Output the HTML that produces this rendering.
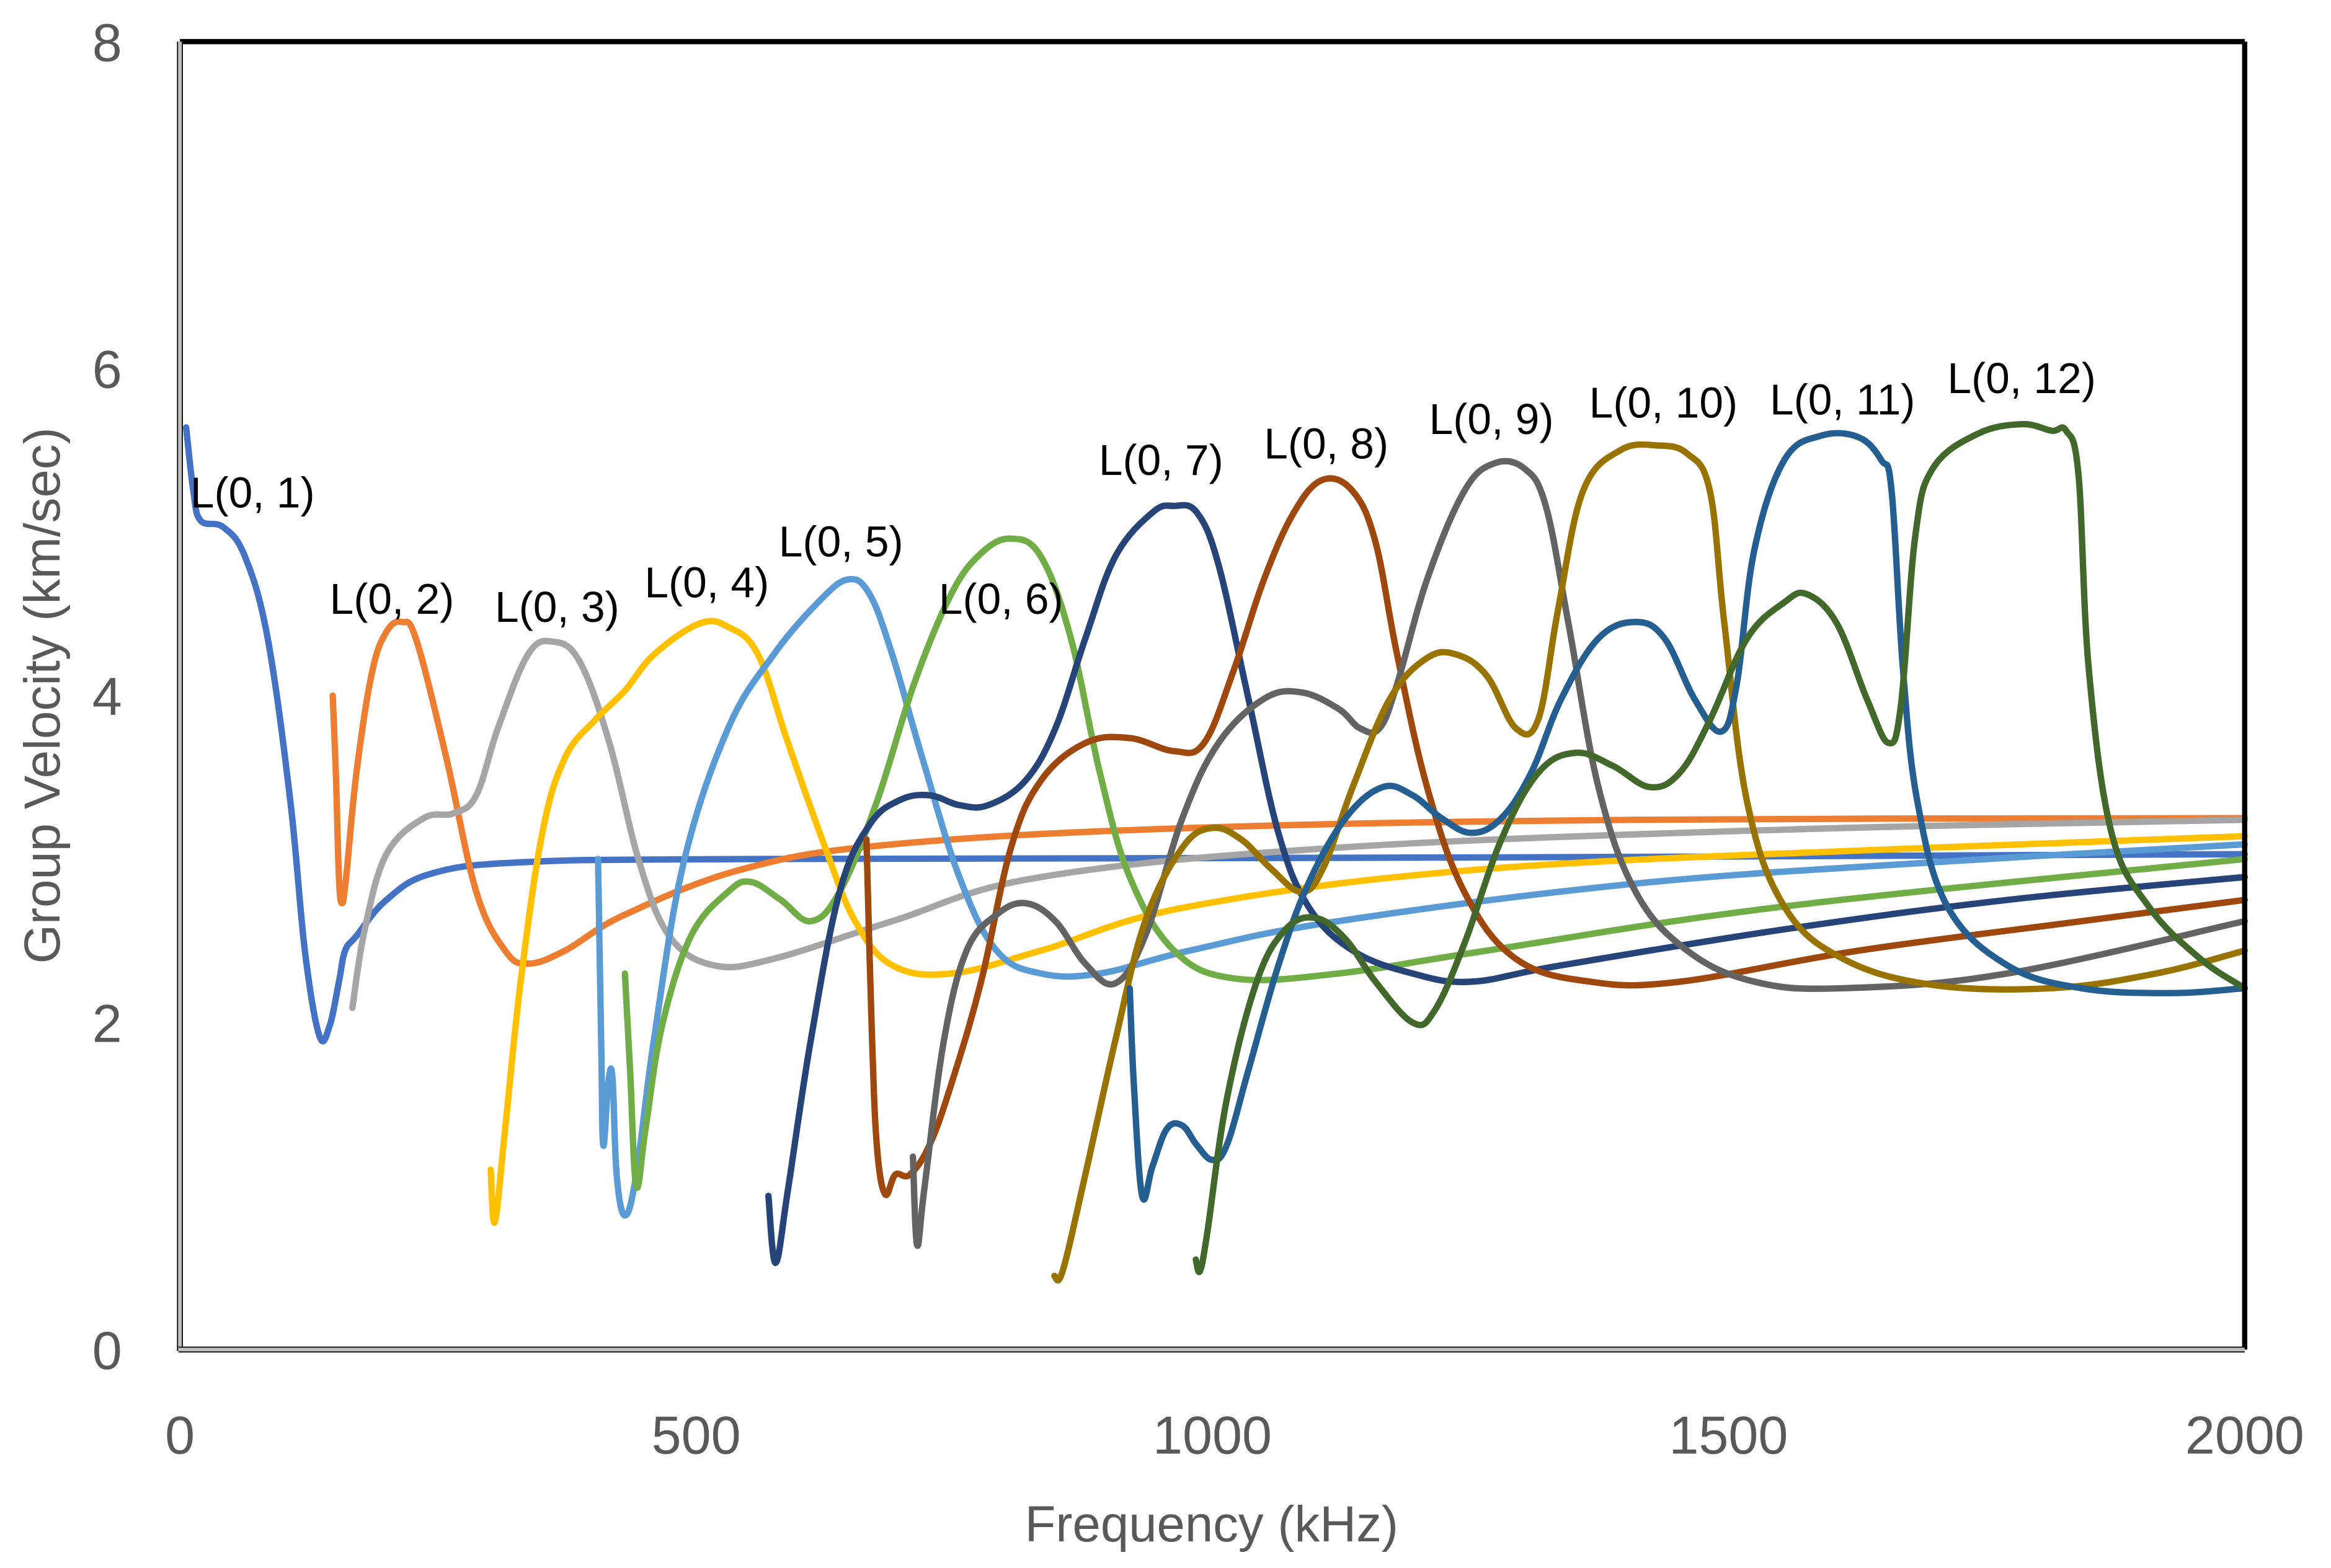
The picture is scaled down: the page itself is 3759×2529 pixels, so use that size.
<!DOCTYPE html>
<html><head><meta charset="utf-8"><style>
html,body{margin:0;padding:0;background:#fff;}
svg{display:block;}
text{font-family:"Liberation Sans",sans-serif;}
</style></head><body>
<svg id="chart" width="3759" height="2529" viewBox="0 0 1568 1055" xmlns="http://www.w3.org/2000/svg">
<rect x="0" y="0" width="1568" height="1055" fill="#fff"/>
<g id="plot"></g>
<g id="frame">
<line x1="121" y1="28" x2="1510" y2="28" stroke="#000" stroke-width="3.5"/>
<line x1="1510" y1="28" x2="1510" y2="908" stroke="#000" stroke-width="3.5"/>
<line x1="121" y1="28" x2="121" y2="909" stroke="#000" stroke-width="4"/>
<line x1="121" y1="28" x2="121" y2="909" stroke="#BFBFBF" stroke-width="2.5"/>
<line x1="120" y1="908" x2="1510" y2="908" stroke="#000" stroke-width="4"/>
<line x1="120" y1="908" x2="1510" y2="908" stroke="#BFBFBF" stroke-width="2.5"/>
</g>
<g id="axes"></g>
<text x="815" y="1037" font-size="34" fill="#595959" text-anchor="middle">Frequency (kHz)</text>
<text transform="translate(40,468) rotate(-90)" font-size="34" fill="#595959" text-anchor="middle">Group Velocity (km/sec)</text>
</svg>
<script>
const xTicks=[0,500,1000,1500,2000];
const yTicks=[0,2,4,6,8];
const seriesNames=["L(0, 1)","L(0, 2)","L(0, 3)","L(0, 4)","L(0, 5)","L(0, 6)","L(0, 7)","L(0, 8)","L(0, 9)","L(0, 10)","L(0, 11)","L(0, 12)"];
const s1f=[6,13,20,42,63,85,107,121,135,145,154,160,171,200,243,330,546,1266,2000];
const s1v=[5.64,5.25,5.07,5.03,4.85,4.35,3.35,2.44,1.92,1.98,2.25,2.44,2.53,2.75,2.91,2.98,3.0,3.01,3.03];
const s2f=[148,151,154,157,161,171,186,200,215,229,258,287,315,337,373,431,546,690,978,1410,2000];
const s2v=[4.0,3.53,2.89,2.73,2.89,3.53,4.14,4.39,4.45,4.34,3.62,2.8,2.44,2.36,2.44,2.66,2.94,3.09,3.19,3.24,3.25];
const s3f=[167,179,200,236,265,287,308,337,361,387,416,445,474,517,575,690,834,1122,1554,2000];
const s3v=[2.09,2.57,3.03,3.25,3.28,3.39,3.8,4.25,4.33,4.21,3.71,2.98,2.53,2.35,2.39,2.62,2.89,3.07,3.18,3.24];
const s4f=[301,305,315,330,351,373,402,431,459,503,531,560,589,625,654,690,747,834,978,1266,1698,2000];
const s4v=[1.1,0.78,1.35,2.25,3.16,3.62,3.85,4.03,4.25,4.44,4.42,4.25,3.71,3.07,2.62,2.35,2.3,2.44,2.71,2.94,3.07,3.14];
const s5f=[405,408,410,415,419,423,431,442,459,488,531,575,618,647,668,690,719,755,791,834,891,978,1122,1410,1698,2000];
const s5v=[3.0,1.89,1.25,1.64,1.66,1.07,0.82,1.07,1.89,2.98,3.8,4.25,4.57,4.71,4.62,4.25,3.62,2.89,2.44,2.3,2.3,2.44,2.62,2.85,2.98,3.09];
const s6f=[431,436,442,451,467,495,531,553,582,611,639,675,711,747,776,805,834,863,891,920,963,1021,1122,1266,1554,2000];
const s6v=[2.3,1.71,1.0,1.35,1.98,2.53,2.8,2.86,2.75,2.62,2.8,3.35,4.07,4.62,4.87,4.96,4.85,4.35,3.53,2.89,2.44,2.27,2.3,2.44,2.71,3.0];
const s7f=[570,577,589,611,639,668,697,726,755,783,819,848,877,906,942,963,985,1006,1035,1064,1093,1136,1194,1251,1338,1554,1770,2000];
const s7v=[0.94,0.53,0.98,1.89,2.8,3.21,3.36,3.39,3.33,3.33,3.48,3.8,4.35,4.85,5.12,5.16,5.12,4.8,3.98,3.16,2.71,2.44,2.3,2.25,2.35,2.57,2.75,2.89];
const s8f=[665,670,675,683,693,707,726,747,776,805,834,877,920,963,992,1021,1050,1079,1107,1136,1158,1179,1208,1244,1294,1366,1453,1626,1842,2000];
const s8v=[3.12,1.98,1.25,0.95,1.07,1.07,1.25,1.62,2.25,3.07,3.48,3.71,3.74,3.66,3.71,4.16,4.71,5.12,5.32,5.25,4.94,4.25,3.44,2.8,2.39,2.25,2.25,2.44,2.62,2.75];
const s9f=[710,714,721,740,762,791,819,848,877,906,935,971,1006,1050,1086,1122,1143,1162,1179,1208,1244,1273,1302,1323,1345,1374,1410,1460,1525,1611,1770,2000];
const s9v=[1.18,0.64,0.98,1.89,2.44,2.66,2.73,2.62,2.36,2.24,2.53,3.25,3.71,3.98,4.02,3.92,3.8,3.8,4.07,4.71,5.25,5.42,5.39,5.16,4.44,3.44,2.8,2.44,2.25,2.21,2.3,2.62];
const s10f=[847,855,877,906,935,971,1000,1028,1057,1086,1107,1136,1172,1208,1237,1266,1294,1316,1335,1359,1395,1431,1460,1482,1496,1518,1554,1611,1698,1813,1914,2000];
const s10v=[0.45,0.48,1.07,1.89,2.62,3.07,3.19,3.12,2.94,2.8,2.94,3.44,3.98,4.23,4.25,4.12,3.8,3.86,4.53,5.25,5.5,5.53,5.48,5.25,4.44,3.35,2.71,2.39,2.23,2.21,2.3,2.44];
const s11f=[920,924,932,942,956,971,985,1000,1014,1035,1064,1093,1129,1165,1194,1222,1251,1280,1309,1338,1374,1410,1438,1467,1493,1508,1525,1554,1590,1626,1648,1658,1669,1683,1712,1770,1842,1928,2000];
const s11v=[2.21,1.62,0.94,1.12,1.35,1.37,1.25,1.16,1.25,1.71,2.35,2.85,3.25,3.44,3.39,3.25,3.16,3.25,3.53,3.98,4.35,4.45,4.35,3.98,3.78,4.07,4.89,5.44,5.59,5.58,5.44,5.25,4.16,3.35,2.71,2.35,2.21,2.18,2.21];
const s12f=[984,988,995,1014,1043,1071,1100,1129,1158,1194,1215,1244,1280,1316,1352,1388,1424,1453,1482,1518,1554,1576,1605,1634,1655,1667,1681,1698,1741,1784,1813,1827,1839,1849,1871,1907,1957,2000];
const s12v=[0.55,0.48,0.71,1.53,2.25,2.57,2.64,2.51,2.25,2.0,2.07,2.48,3.12,3.53,3.65,3.57,3.44,3.53,3.85,4.35,4.57,4.62,4.44,3.98,3.71,3.94,4.98,5.39,5.6,5.66,5.62,5.62,5.35,4.16,3.16,2.71,2.39,2.21];
const labelF=[10,145,305,450,580,735,890,1050,1210,1365,1540,1712];
const labelV=[5.15,4.5,4.45,4.6,4.85,4.5,5.35,5.45,5.6,5.7,5.72,5.85];

const X0=121,X1=1510,Y0=908,Y1=28;
function xs(f){return X0+(f/2000)*(X1-X0);}
function ys(v){return Y0-(v/8)*(Y0-Y1);}
const NS="http://www.w3.org/2000/svg";
const colors=["#4472C4","#ED7D31","#A5A5A5","#FFC000","#5B9BD5","#70AD47","#264478","#9E480E","#636363","#997300","#255E91","#43682B"];
const allF=[s1f,s2f,s3f,s4f,s5f,s6f,s7f,s8f,s9f,s10f,s11f,s12f];
const allV=[s1v,s2v,s3v,s4v,s5v,s6v,s7v,s8v,s9v,s10v,s11v,s12v];
const plot=document.getElementById('plot');
const axes=document.getElementById('axes');
function smoothPath(pts){
  let d="M"+pts[0][0].toFixed(2)+","+pts[0][1].toFixed(2);
  for(let i=0;i<pts.length-1;i++){
    const p0=pts[i-1]||pts[i],p1=pts[i],p2=pts[i+1],p3=pts[i+2]||p2;
    const t=0.18;
    const c1=[p1[0]+(p2[0]-p0[0])*t,p1[1]+(p2[1]-p0[1])*t];
    const c2=[p2[0]-(p3[0]-p1[0])*t,p2[1]-(p3[1]-p1[1])*t];
    d+=" C"+c1[0].toFixed(2)+","+c1[1].toFixed(2)+" "+c2[0].toFixed(2)+","+c2[1].toFixed(2)+" "+p2[0].toFixed(2)+","+p2[1].toFixed(2);
  }
  return d;
}
for(let s=0;s<12;s++){
  const pts=allF[s].map((f,i)=>[xs(f),ys(allV[s][i])]);
  const p=document.createElementNS(NS,'path');
  p.setAttribute('d',smoothPath(pts));
  p.setAttribute('fill','none');
  p.setAttribute('stroke',colors[s]);
  p.setAttribute('stroke-width','4.3');
  p.setAttribute('stroke-linejoin','round');
  p.setAttribute('stroke-linecap','round');
  
  
  plot.appendChild(p);
}
for(let s=0;s<12;s++){
  const t=document.createElementNS(NS,'text');
  t.setAttribute('x',xs(labelF[s]));
  t.setAttribute('y',ys(labelV[s]));
  t.setAttribute('font-size','29');
  t.setAttribute('fill','#000');
  t.textContent=seriesNames[s];
  
  
  plot.appendChild(t);
}
xTicks.forEach(v=>{
  const t=document.createElementNS(NS,'text');
  t.setAttribute('x',xs(v));
  t.setAttribute('y',978);
  t.setAttribute('font-size','36');
  t.setAttribute('fill','#595959');
  t.setAttribute('text-anchor','middle');
  t.textContent=v;
  
  
  axes.appendChild(t);
});
yTicks.forEach(v=>{
  const t=document.createElementNS(NS,'text');
  t.setAttribute('x',82);
  t.setAttribute('y',ys(v)+13);
  t.setAttribute('font-size','36');
  t.setAttribute('fill','#595959');
  t.setAttribute('text-anchor','end');
  t.textContent=v;
  
  
  axes.appendChild(t);
});
</script>
</body></html>
